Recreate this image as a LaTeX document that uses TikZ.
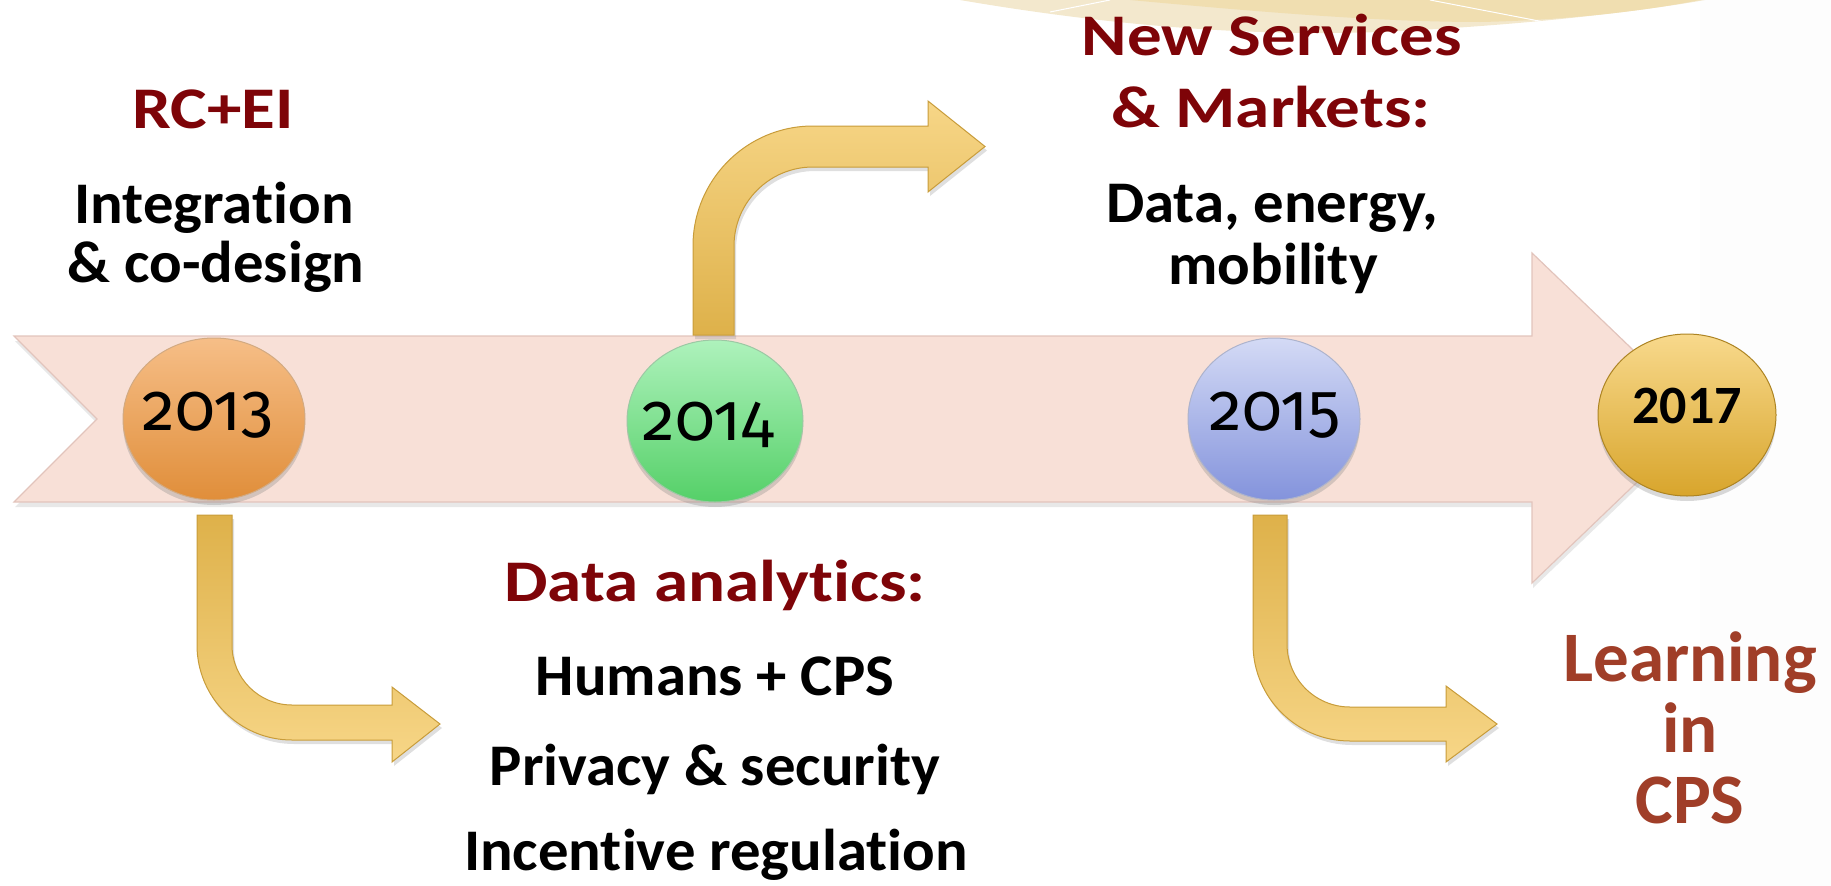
\documentclass[tikz,border=0pt]{standalone}
\usepackage{graphicx}
\usepackage{fontspec}
\setmainfont[Ligatures=NoCommon]{Carlito}
\newfontfamily\yearfont[Numbers=OldStyle]{Fira Sans}
\usetikzlibrary{shapes.geometric,shadows}

\definecolor{headred}{RGB}{126,4,8}
\definecolor{learnred}{RGB}{160,62,40}
\definecolor{bandfill}{RGB}{248,224,215}
\definecolor{bandedge}{RGB}{226,196,188}
\definecolor{arrowdark}{RGB}{222,177,74}
\definecolor{arrowlight}{RGB}{247,214,135}
\definecolor{arrowedge}{RGB}{200,156,58}
\definecolor{decolight}{RGB}{243,232,205}
\definecolor{decodark}{RGB}{240,222,176}
\definecolor{orangetop}{RGB}{246,190,135}
\definecolor{orangebot}{RGB}{224,142,58}
\definecolor{greentop}{RGB}{174,242,188}
\definecolor{greenbot}{RGB}{85,208,104}
\definecolor{bluetop}{RGB}{212,218,245}
\definecolor{bluebot}{RGB}{131,147,220}
\definecolor{goldtop}{RGB}{248,217,140}
\definecolor{goldbot}{RGB}{216,165,44}

% horizontal stretch of a text line
\newcommand{\hstretch}[2]{\scalebox{#1}[1]{#2}}

\begin{document}
\begin{tikzpicture}[x=1pt,y=-1pt,
  band/.style={fill=bandfill, draw=bandedge, line width=1.2pt,
    drop shadow={shadow xshift=1pt, shadow yshift=-5pt, opacity=0.18}},
  bent/.style={draw=arrowedge, line width=1pt,
    drop shadow={shadow xshift=2pt, shadow yshift=-4pt, opacity=0.25}},
  yearball/.style={ellipse, inner sep=0pt, line width=1pt,
    drop shadow={shadow xshift=0pt, shadow yshift=-5pt, opacity=0.3}},
  headtext/.style={anchor=base, inner sep=0pt, text=headred,
    font=\bfseries\fontsize{59}{70}\selectfont},
  bodytext/.style={anchor=base, inner sep=0pt, text=black,
    font=\bfseries\fontsize{59}{70}\selectfont},
  learntext/.style={anchor=base, inner sep=0pt, text=learnred,
    font=\bfseries\fontsize{71}{80}\selectfont},
  yeartext/.style={anchor=base, inner sep=0pt, text=black,
    font=\yearfont\fontsize{67}{72}\selectfont},
]
\useasboundingbox (0,0) rectangle (1831,886);

% faint slide margin on the right
\fill[black!0.6] (1700,0) rectangle (1831,886);

% decorative wave along the top edge
\fill[decolight] (960,0) .. controls (1100,24) and (1260,40) .. (1420,30)
  .. controls (1560,22) and (1660,8) .. (1705,0) -- cycle;
\fill[decodark] (1130,0) .. controls (1260,12) and (1380,22) .. (1480,22)
  .. controls (1580,20) and (1660,8) .. (1700,0) -- cycle;
\draw[white, line width=1pt] (1050,12) -- (1110,0);
\draw[white, line width=1pt] (1430,0) -- (1565,26);

% timeline band
\path[band] (14,336) -- (1532,336) -- (1532,253) -- (1704,418)
  -- (1532,583) -- (1532,502) -- (14,502) -- (97,419) -- cycle;

% bent arrow below 2013
\path[bent, top color=arrowdark, bottom color=arrowlight]
  (197,515) -- (197,645) arc[start angle=180, end angle=90, radius=95]
  -- (392,740) -- (392,762) -- (440,724) -- (392,687) -- (392,705)
  -- (292,705) arc[start angle=90, end angle=180, radius=60]
  -- (232,515) -- cycle;

% bent arrow above 2014
\path[bent, top color=arrowlight, bottom color=arrowdark]
  (693,335) -- (693,246) arc[start angle=180, end angle=270, radius=120]
  -- (928,126) -- (928,101) -- (985,146.5) -- (928,192) -- (928,167)
  -- (813,167) arc[start angle=270, end angle=180, radius=79]
  -- (734,335) -- cycle;

% bent arrow below 2015
\path[bent, top color=arrowdark, bottom color=arrowlight]
  (1253,515) -- (1253,644) arc[start angle=180, end angle=90, radius=97]
  -- (1446,741) -- (1446,762) -- (1497,724) -- (1446,686) -- (1446,707)
  -- (1350,707) arc[start angle=90, end angle=180, radius=63]
  -- (1287,515) -- cycle;

% year markers
\node[yearball, minimum width=182pt, minimum height=162pt,
  top color=orangetop, bottom color=orangebot, draw=orangebot!80!black!60] (y13) at (214,419) {};
\node[yearball, minimum width=176pt, minimum height=162pt,
  top color=greentop, bottom color=greenbot, draw=greenbot!70!black!50] (y14) at (715,421) {};
\node[yearball, minimum width=172pt, minimum height=162pt,
  top color=bluetop, bottom color=bluebot, draw=bluebot!70!black!50] (y15) at (1274,419) {};
\node[yearball, minimum width=178pt, minimum height=162pt,
  top color=goldtop, bottom color=goldbot, draw=goldbot!80!black] (y17) at (1687,415) {};

\node[yeartext] (t13) at (208,430) {\hstretch{0.98}{2013}};
\node[yeartext] (t14) at (708,440) {\hstretch{0.98}{2014}};
\node[yeartext] (t15) at (1275,430) {\hstretch{0.98}{2015}};
\node[anchor=base, inner sep=0pt, font=\bfseries\fontsize{54}{60}\selectfont] (t17) at (1687,423) {2017};

% 2013 texts
\node[headtext] (h13) at (213,128) {\hstretch{1.17}{RC+EI}};
\node[bodytext] (b13a) at (214,223) {\hstretch{1.03}{Integration}};
\node[bodytext] (b13b) at (216,282) {\hstretch{1.03}{\& co-design}};

% 2014 texts
\node[headtext] (h14) at (715,601) {\hstretch{1.17}{Data analytics:}};
\node[bodytext] (b14a) at (715,695) {\hstretch{1.03}{Humans + CPS}};
\node[bodytext] (b14b) at (715,785) {\hstretch{1.03}{Privacy \& security}};
\node[bodytext] (b14c) at (716,870) {\hstretch{1.03}{Incentive regulation}};

% 2015 texts
\node[headtext] (h15a) at (1272,55) {\hstretch{1.17}{New Services}};
\node[headtext] (h15b) at (1271,127) {\hstretch{1.17}{\& Markets:}};
\node[bodytext] (b15a) at (1272,222) {\hstretch{1.03}{Data, energy,}};
\node[bodytext] (b15b) at (1273,284) {\hstretch{1.03}{mobility}};

% 2017 text
\node[learntext] (l1) at (1690,681) {Learning};
\node[learntext] (l2) at (1690,752) {in};
\node[learntext] (l3) at (1690,823) {CPS};
\end{tikzpicture}
\end{document}
